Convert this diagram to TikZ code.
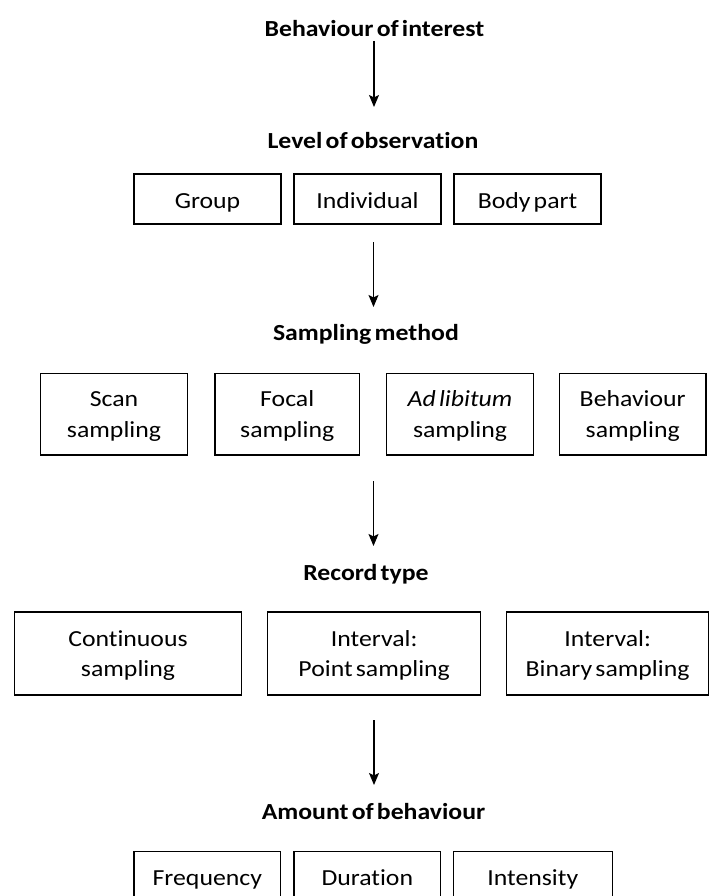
\documentclass[tikz,border=0pt]{standalone}
\usepackage{fontspec}
\setmainfont{Carlito}[FakeStretch=1.12, WordSpace=0.55, RawFeature=-liga]
\usetikzlibrary{arrows.meta}
% two centred lines with a fixed baseline distance
\newcommand\twoline[2]{\begin{tabular}{@{}c@{}}\rule{0pt}{24.8pt}#1\\#2\end{tabular}}
\begin{document}
\begin{tikzpicture}[x=1pt, y=-1pt,
  every node/.style={font=\fontsize{23}{30.6}\selectfont},
  head/.style={font=\fontsize{23}{30.6}\selectfont\bfseries, anchor=base, inner sep=0pt},
  onebox/.style={draw, line width=1.3pt, inner sep=0pt, text height=18pt, text depth=0pt},
  twobox/.style={draw, line width=1.3pt, inner sep=0pt},
  flow/.style={line width=1.1pt, -{Stealth[length=12pt, width=10pt, inset=2.5pt]}}]
\useasboundingbox (0,0) rectangle (710,896);
\clip (0,0) rectangle (710,896);

% headings
\node[head] (interest) at (374.4,36.5) {Behaviour of interest};
\node[head] (level)    at (372.9,148.8) {Level of observation};
\node[head] (method)   at (365.9,340) {Sampling method};
\node[head] (record)   at (366,580) {Record type};
\node[head] (amount)   at (373.5,819.3) {Amount of behaviour};

% level of observation
\node[onebox, minimum width=147pt, minimum height=50pt] (group) at (207.5,199) {Group};
\node[onebox, minimum width=147pt, minimum height=50pt] (indiv) at (367.5,199) {Individual};
\node[onebox, minimum width=147pt, minimum height=50pt] (body)  at (527.5,199) {Body part};

% sampling methods
\node[twobox, minimum width=146.6pt, minimum height=81.7pt] (scan)  at (114,414.2) {\twoline{Scan}{sampling}};
\node[twobox, minimum width=144.3pt, minimum height=81.7pt] (focal) at (287.2,414.2) {\twoline{Focal}{sampling}};
\node[twobox, minimum width=146.6pt, minimum height=81.7pt] (adlib) at (460,414.2) {\twoline{\itshape Ad libitum}{sampling}};
\node[twobox, minimum width=146.7pt, minimum height=81.7pt] (behav) at (632.7,414.2) {\twoline{Behaviour}{sampling}};

% record types
\node[twobox, minimum width=227.4pt, minimum height=83pt] (cont)   at (128,653.5) {\twoline{Continuous}{sampling}};
\node[twobox, minimum width=213pt,   minimum height=83pt] (point)  at (374.2,653.5) {\twoline{Interval:}{Point sampling}};
\node[twobox, minimum width=201.8pt, minimum height=83pt] (binary) at (607.6,653.5) {\twoline{Interval:}{Binary sampling}};

% amount of behaviour
\node[onebox, minimum width=146.7pt, minimum height=50.3pt] (freq) at (207.3,876.8) {Frequency};
\node[onebox, minimum width=146.7pt, minimum height=50.3pt] (dur)  at (367.3,876.8) {Duration};
\node[onebox, minimum width=159pt,   minimum height=50.3pt] (inten) at (532.8,876.8) {Intensity};

% arrow end points
\coordinate (a1s) at (374,41);    \coordinate (a1e) at (374,107);
\coordinate (a2s) at (373.5,242); \coordinate (a2e) at (373.5,307);
\coordinate (a3s) at (373.5,481); \coordinate (a3e) at (373.5,546);
\coordinate (a4s) at (374,720);   \coordinate (a4e) at (374,785);

\draw[flow] (a1s) -- (a1e);
\draw[flow] (a2s) -- (a2e);
\draw[flow] (a3s) -- (a3e);
\draw[flow] (a4s) -- (a4e);
\end{tikzpicture}
\end{document}
